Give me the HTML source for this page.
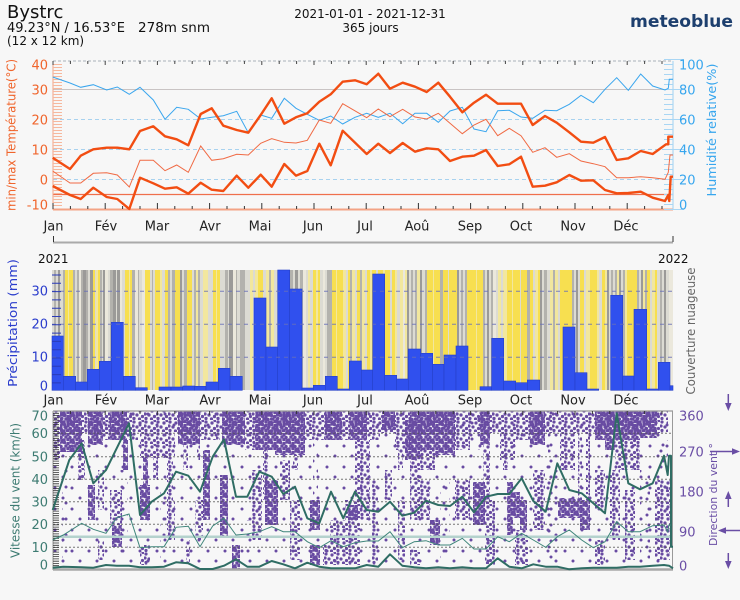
<!DOCTYPE html>
<html><head><meta charset="utf-8">
<style>
html,body{margin:0;padding:0;background:#f7f7f7;}
svg{display:block;font-family:"DejaVu Sans","Liberation Sans",sans-serif;}
.Y{fill:#f7df50}.y{fill:#f2e79e}.L{fill:#dcdbd3}.W{fill:#ebe8dc}.G{fill:#b3b2ad}.D{fill:#9b9a98}
</style></head><body>
<svg width="740" height="600" viewBox="0 0 740 600" xmlns="http://www.w3.org/2000/svg">
<defs>
<pattern id="pd" width="9" height="9" patternUnits="userSpaceOnUse"><g fill="#684ba2"><circle cx="1.5" cy="1.5" r="1.75"/><circle cx="5" cy="2.5" r="1.75"/><circle cx="8" cy="1" r="1.75"/><circle cx="3" cy="5" r="1.75"/><circle cx="7" cy="5.5" r="1.75"/><circle cx="1" cy="8" r="1.75"/><circle cx="5" cy="7.8" r="1.75"/><circle cx="8.5" cy="8.5" r="1.75"/></g></pattern>
<pattern id="pm" width="12" height="12" patternUnits="userSpaceOnUse"><g fill="#684ba2"><circle cx="2" cy="2" r="1.6"/><circle cx="8" cy="3" r="1.6"/><circle cx="5" cy="7" r="1.6"/><circle cx="10.5" cy="8.5" r="1.6"/><circle cx="2" cy="10.5" r="1.6"/><circle cx="7.5" cy="11" r="1.6"/><circle cx="11" cy="0.5" r="1.6"/><circle cx="1" cy="6" r="1.6"/></g></pattern>
<pattern id="ps" width="14" height="16" patternUnits="userSpaceOnUse"><g fill="#684ba2"><circle cx="3" cy="3" r="1.5"/><circle cx="10" cy="7" r="1.5"/><circle cx="5" cy="13" r="1.5"/></g></pattern>
<pattern id="pb" width="17" height="21" patternUnits="userSpaceOnUse"><g fill="#684ba2"><circle cx="4" cy="5" r="1.5"/><circle cx="12" cy="15" r="1.5"/></g></pattern>
</defs>
<rect width="740" height="600" fill="#f7f7f7"/>

<!-- HEADER -->
<text x="7" y="18" font-size="18" fill="#111">Bystrc</text>
<text x="7" y="32" font-size="13.5" fill="#111" textLength="118" lengthAdjust="spacingAndGlyphs">49.23°N / 16.53°E</text>
<text x="138" y="32" font-size="13.5" fill="#111" textLength="72" lengthAdjust="spacingAndGlyphs">278m snm</text>
<text x="7" y="45" font-size="12" fill="#111">(12 x 12 km)</text>
<text x="370" y="18" font-size="12" fill="#111" text-anchor="middle">2021-01-01 - 2021-12-31</text>
<text x="370.5" y="32" font-size="12" fill="#111" text-anchor="middle">365 jours</text>
<text x="630" y="27" font-size="17" font-weight="bold" fill="#1d3f6e" textLength="103" lengthAdjust="spacingAndGlyphs">meteoblue</text>

<!-- TOP PANEL -->
<g>
<line x1="53" y1="61" x2="673" y2="61" stroke="#a8b0b8" stroke-dasharray="3,2" stroke-width="1"/>
<line x1="53" y1="89.5" x2="673" y2="89.5" stroke="#c9c4c4" stroke-width="1"/>
<line x1="53" y1="119.5" x2="673" y2="119.5" stroke="#a8d2ef" stroke-dasharray="4,3" stroke-width="1"/>
<line x1="53" y1="149.5" x2="673" y2="149.5" stroke="#a8d2ef" stroke-dasharray="4,3" stroke-width="1"/>
<line x1="53" y1="179.5" x2="673" y2="179.5" stroke="#a8d2ef" stroke-dasharray="4,3" stroke-width="1"/>
<line x1="53" y1="194.5" x2="673" y2="194.5" stroke="#ef6f4c" stroke-width="1.3"/>
<line x1="53" y1="209.5" x2="673" y2="209.5" stroke="#f3a385" stroke-width="2"/>
<line x1="53" y1="61" x2="53" y2="210" stroke="#f3a385" stroke-width="1"/>
<line x1="673" y1="61" x2="673" y2="210" stroke="#9fd0f2" stroke-width="1"/>
<path stroke="#f6b89e" stroke-width="1" d="M53 64.5h9M53 67.5h9M53 70.5h9M53 73.5h9M53 76.5h9M53 79.5h9M53 82.5h9M53 85.5h9M53 88.5h9M53 91.5h9M53 94.5h9M53 97.5h9M53 100.5h9M53 103.5h9M53 106.5h9M53 109.5h9M53 112.5h9M53 115.5h9M53 118.5h9M53 121.5h9M53 124.5h9M53 127.5h9M53 130.5h9M53 133.5h9M53 136.5h9M53 139.5h9M53 142.5h9M53 145.5h9M53 148.5h9M53 151.5h9M53 154.5h9M53 157.5h9M53 160.5h9M53 163.5h9M53 166.5h9M53 169.5h9M53 172.5h9M53 175.5h9M53 178.5h9M53 181.5h9M53 184.5h9M53 187.5h9M53 190.5h9M53 193.5h9M53 196.5h9M53 199.5h9M53 202.5h9M53 205.5h9"/>
<path stroke="#a9d6f4" stroke-width="1" d="M664 64.5h9M664 69.5h9M664 74.5h9M664 79.5h9M664 84.5h9M664 94.5h9M664 99.5h9M664 104.5h9M664 109.5h9M664 114.5h9M664 124.5h9M664 129.5h9M664 134.5h9M664 139.5h9M664 144.5h9M664 154.5h9M664 159.5h9M664 164.5h9M664 169.5h9M664 174.5h9M664 184.5h9M664 189.5h9M664 194.5h9M664 199.5h9M664 204.5h9M664 59.5h20M664 89.5h20M664 119.5h20M664 149.5h20M664 179.5h20M664 209.5h20"/>
<path stroke="#444" stroke-width="1" d="M53 61v4M70.4 61v3M87.8 61v3M105.2 61v4M122.6 61v3M140 61v3M157.4 61v4M174.8 61v3M192.2 61v3M209.6 61v4M227 61v3M244.4 61v3M261.8 61v4M279.2 61v3M296.6 61v3M314 61v4M331.4 61v3M348.8 61v3M366.2 61v4M383.6 61v3M401 61v3M418.4 61v4M435.8 61v3M453.2 61v3M470.6 61v4M488 61v3M505.4 61v3M522.8 61v4M540.2 61v3M557.6 61v3M575 61v4M592.4 61v3M609.8 61v3M627.2 61v4M644.6 61v3M662 61v3"/>
<path stroke="#333" stroke-width="1" d="M53 209v-6M70.4 209v-3M87.8 209v-3M105.2 209v-6M122.6 209v-3M140 209v-3M157.4 209v-6M174.8 209v-3M192.2 209v-3M209.6 209v-6M227 209v-3M244.4 209v-3M261.8 209v-6M279.2 209v-3M296.6 209v-3M314 209v-6M331.4 209v-3M348.8 209v-3M366.2 209v-6M383.6 209v-3M401 209v-3M418.4 209v-6M435.8 209v-3M453.2 209v-3M470.6 209v-6M488 209v-3M505.4 209v-3M522.8 209v-6M540.2 209v-3M557.6 209v-3M575 209v-6M592.4 209v-3M609.8 209v-3M627.2 209v-6M644.6 209v-3M662 209v-3"/>
<polyline fill="none" stroke="#3aa6ee" stroke-width="1" points="52.7,77 70,83 80.7,87.3 93.3,84.7 106.7,90 117.3,87 129.3,94.3 140,87.3 153.3,100 165,119.3 176.7,107.3 188.3,109.3 200.7,119 211.7,117.3 223.3,115.7 236.7,111.3 248.3,132.7 260.7,115 271.7,118.3 284.3,98.3 296,108.3 307.3,114.3 319.3,120.3 330.7,116 342.7,124 355,117.3 366.7,113.3 378.3,117.3 390,113.3 402.7,123.7 415,113.3 426.7,113.3 438.3,122.3 450,111 462.3,107.3 474,129 486,131.7 497.7,110.7 509.3,110.3 521,117 532.7,118.3 545,110.3 556.7,110.7 569.3,104.3 581,95.3 593.3,102.7 605,89.3 616.7,77.7 628.3,90.3 640.7,74 652.7,86 665,90 668.3,88.3 669.3,79.3 673,79.3"/>
<polyline fill="none" stroke="#f06a44" stroke-width="1" points="52.7,171 70,183 80.7,183 93.3,173.3 106.7,172.7 117.3,175 129.3,187 140,160.3 153.3,160.3 165,170.7 176.7,165 188.3,172.3 200.7,146 211.7,160.3 223.3,158.7 236.7,154.3 248.3,155 260.7,143.3 271.7,138.7 284.3,142.3 296,143 307.3,140.3 319.3,120 330.7,123.3 342.7,103.7 366.7,117.7 378.3,109 390,116.7 402.7,109.3 415,117 426.7,119 438.3,113.3 450,123.3 462.3,133.7 474,125 486,119.3 497.7,135.7 509.3,128.3 521,135.7 532.7,152.3 545,147.7 556.7,157.3 569.3,153.7 581,161 593.3,163.7 605,166.7 616.7,177.7 628.3,177.7 640.7,176.7 652.7,177.7 665,179.3 668.3,172.3 670,155 673,155"/>
<polyline fill="none" stroke="#f24d12" stroke-width="2.4" stroke-linejoin="round" points="52.7,157.7 70,169 80.7,155.7 93.3,149.3 106.7,147.7 117.3,147.7 129.3,149.3 140,131 153.3,126.3 165,136.3 176.7,139.3 188.3,145.3 200.7,114 211.7,108.3 223.3,125.7 236.7,130 248.3,132.7 260.7,115 271.7,98.3 284.3,123.7 296,117.3 307.3,113.3 319.3,101.7 330.7,94.3 342.7,81.7 355,80.3 366.7,84.3 378.3,73.7 390,88.7 402.7,82.7 415,86.7 426.7,92 438.3,82.7 450,96.7 462.3,112.3 474,102.7 486,94.7 497.7,103.7 509.3,103.7 521,103.7 532.7,125 545,116 556.7,122.7 569.3,132.3 581,141.7 593.3,142.7 605,137 616.7,160 628.3,158.3 640.7,151 652.7,154 666,144.3 668.3,144.3 668.3,136.7 673,136.7"/>
<polyline fill="none" stroke="#f24d12" stroke-width="2.4" stroke-linejoin="round" points="52.7,186 70,195 80.7,199 93.3,187.7 106.7,197 117.3,199 129.3,209 140,177.7 153.3,183.3 165,188.7 176.7,187.3 188.3,193.7 200.7,182.7 211.7,189.7 223.3,191 236.7,175.7 248.3,187.7 260.7,174.7 271.7,186.7 284.3,164 296,175.7 307.3,171 319.3,143.7 330.7,165.3 342.7,130.7 366.7,154 378.3,143.7 390,153 402.7,143 415,151.7 426.7,148.3 438.3,149.3 450,161 462.3,156.7 474,155.7 486,150 497.7,166 509.3,164.3 521,156.7 532.7,186.7 545,185.7 556.7,182.3 569.3,175 581,180.7 593.3,180.3 605,190 616.7,193.3 628.3,193 640.7,191.7 652.7,197.7 665,201 668.3,195 669.3,201 670.7,176.7 673,176.7"/>
</g>
<g font-size="13" fill="#f0652c" text-anchor="end">
<text x="48" y="69.7">40</text><text x="48" y="94.7">30</text><text x="48" y="124.5">20</text><text x="48" y="154.5">10</text><text x="48" y="184.5">0</text><text x="48" y="209.7">-10</text>
</g>
<g font-size="13" fill="#37a6ee">
<text x="679" y="69.7">100</text><text x="679" y="94.7">80</text><text x="679" y="124.5">60</text><text x="679" y="154.5">40</text><text x="679" y="184.5">20</text><text x="679" y="209.7">0</text>
</g>
<text transform="translate(15.5,135) rotate(-90)" font-size="12" fill="#f0652c" text-anchor="middle" textLength="152" lengthAdjust="spacingAndGlyphs">min/max Température(°C)</text>
<text transform="translate(716,130) rotate(-90)" font-size="12" fill="#37a6ee" text-anchor="middle" textLength="133" lengthAdjust="spacingAndGlyphs">Humidité relative(%)</text>
<g font-size="13" fill="#222" text-anchor="middle">
<text x="53.5" y="230.5">Jan</text><text x="106" y="230.5">Fév</text><text x="157" y="230.5">Mar</text><text x="210" y="230.5">Avr</text><text x="260" y="230.5">Mai</text><text x="313" y="230.5">Jun</text><text x="365" y="230.5">Jul</text><text x="417" y="230.5">Aoû</text><text x="470" y="230.5">Sep</text><text x="521" y="230.5">Oct</text><text x="573" y="230.5">Nov</text><text x="626" y="230.5">Déc</text>
</g>
<!-- timeline -->
<line x1="53" y1="242.5" x2="673" y2="242.5" stroke="#aaa" stroke-width="2"/>
<path stroke="#333" stroke-width="1" d="M53.5 236v6M673 236v6"/>
<text x="38" y="263" font-size="12" fill="#111">2021</text>
<text x="658" y="263" font-size="12" fill="#111">2022</text>

<!-- MIDDLE PANEL background stripes -->
<g>
<rect x="52" y="270" width="2" height="120" class="L"/><rect x="54" y="270" width="2" height="120" class="G"/><rect x="56" y="270" width="2" height="120" class="L"/><rect x="58" y="270" width="2" height="120" class="D"/><rect x="60" y="270" width="3" height="120" class="L"/><rect x="63" y="270" width="2" height="120" class="G"/><rect x="65" y="270" width="3" height="120" class="Y"/><rect x="68" y="270" width="1" height="120" class="y"/><rect x="69" y="270" width="4" height="120" class="Y"/><rect x="73" y="270" width="2" height="120" class="G"/><rect x="75" y="270" width="2" height="120" class="L"/><rect x="77" y="270" width="2" height="120" class="G"/><rect x="79" y="270" width="2" height="120" class="W"/><rect x="81" y="270" width="2" height="120" class="G"/><rect x="83" y="270" width="3" height="120" class="D"/><rect x="86" y="270" width="2" height="120" class="G"/><rect x="88" y="270" width="2" height="120" class="L"/><rect x="90" y="270" width="3" height="120" class="D"/><rect x="93" y="270" width="2" height="120" class="Y"/><rect x="95" y="270" width="1" height="120" class="L"/><rect x="96" y="270" width="2" height="120" class="y"/><rect x="98" y="270" width="2" height="120" class="Y"/><rect x="100" y="270" width="2" height="120" class="G"/><rect x="102" y="270" width="1" height="120" class="L"/><rect x="103" y="270" width="2" height="120" class="D"/><rect x="105" y="270" width="3" height="120" class="W"/><rect x="108" y="270" width="2" height="120" class="L"/><rect x="110" y="270" width="3" height="120" class="G"/><rect x="113" y="270" width="3" height="120" class="D"/><rect x="116" y="270" width="1" height="120" class="L"/><rect x="117" y="270" width="3" height="120" class="D"/><rect x="120" y="270" width="2" height="120" class="W"/><rect x="122" y="270" width="3" height="120" class="L"/><rect x="125" y="270" width="4" height="120" class="Y"/><rect x="129" y="270" width="1" height="120" class="y"/><rect x="130" y="270" width="2" height="120" class="Y"/><rect x="132" y="270" width="3" height="120" class="G"/><rect x="135" y="270" width="3" height="120" class="W"/><rect x="138" y="270" width="1" height="120" class="G"/><rect x="139" y="270" width="3" height="120" class="L"/><rect x="142" y="270" width="3" height="120" class="W"/><rect x="145" y="270" width="5" height="120" class="Y"/><rect x="150" y="270" width="2" height="120" class="L"/><rect x="152" y="270" width="1" height="120" class="G"/><rect x="153" y="270" width="2" height="120" class="L"/><rect x="155" y="270" width="5" height="120" class="Y"/><rect x="160" y="270" width="2" height="120" class="y"/><rect x="162" y="270" width="3" height="120" class="L"/><rect x="165" y="270" width="3" height="120" class="Y"/><rect x="168" y="270" width="2" height="120" class="G"/><rect x="170" y="270" width="2" height="120" class="L"/><rect x="172" y="270" width="3" height="120" class="G"/><rect x="175" y="270" width="5" height="120" class="Y"/><rect x="180" y="270" width="2" height="120" class="D"/><rect x="182" y="270" width="2" height="120" class="L"/><rect x="184" y="270" width="3" height="120" class="G"/><rect x="187" y="270" width="5" height="120" class="Y"/><rect x="192" y="270" width="2" height="120" class="L"/><rect x="194" y="270" width="2" height="120" class="G"/><rect x="196" y="270" width="2" height="120" class="y"/><rect x="198" y="270" width="2" height="120" class="G"/><rect x="200" y="270" width="3" height="120" class="L"/><rect x="203" y="270" width="5" height="120" class="y"/><rect x="208" y="270" width="5" height="120" class="L"/><rect x="213" y="270" width="3" height="120" class="Y"/><rect x="216" y="270" width="1" height="120" class="y"/><rect x="217" y="270" width="3" height="120" class="Y"/><rect x="220" y="270" width="5" height="120" class="L"/><rect x="225" y="270" width="3" height="120" class="G"/><rect x="228" y="270" width="1" height="120" class="L"/><rect x="229" y="270" width="4" height="120" class="D"/><rect x="233" y="270" width="3" height="120" class="W"/><rect x="236" y="270" width="1" height="120" class="G"/><rect x="237" y="270" width="3" height="120" class="L"/><rect x="240" y="270" width="5" height="120" class="G"/><rect x="245" y="270" width="5" height="120" class="L"/><rect x="250" y="270" width="3" height="120" class="y"/><rect x="253" y="270" width="2" height="120" class="L"/><rect x="255" y="270" width="3" height="120" class="y"/><rect x="258" y="270" width="5" height="120" class="Y"/><rect x="263" y="270" width="3" height="120" class="L"/><rect x="266" y="270" width="3" height="120" class="y"/><rect x="269" y="270" width="2" height="120" class="G"/><rect x="271" y="270" width="3" height="120" class="y"/><rect x="274" y="270" width="16" height="120" class="L"/><rect x="290" y="270" width="3" height="120" class="G"/><rect x="293" y="270" width="2" height="120" class="L"/><rect x="295" y="270" width="3" height="120" class="D"/><rect x="298" y="270" width="2" height="120" class="L"/><rect x="300" y="270" width="3" height="120" class="G"/><rect x="303" y="270" width="3" height="120" class="W"/><rect x="306" y="270" width="2" height="120" class="L"/><rect x="308" y="270" width="2" height="120" class="y"/><rect x="310" y="270" width="3" height="120" class="L"/><rect x="313" y="270" width="3" height="120" class="Y"/><rect x="316" y="270" width="2" height="120" class="y"/><rect x="318" y="270" width="2" height="120" class="Y"/><rect x="320" y="270" width="3" height="120" class="L"/><rect x="323" y="270" width="2" height="120" class="W"/><rect x="325" y="270" width="2" height="120" class="L"/><rect x="327" y="270" width="5" height="120" class="G"/><rect x="332" y="270" width="4" height="120" class="Y"/><rect x="336" y="270" width="1" height="120" class="y"/><rect x="337" y="270" width="6" height="120" class="Y"/><rect x="343" y="270" width="3" height="120" class="y"/><rect x="346" y="270" width="2" height="120" class="L"/><rect x="348" y="270" width="2" height="120" class="Y"/><rect x="350" y="270" width="2" height="120" class="G"/><rect x="352" y="270" width="3" height="120" class="y"/><rect x="355" y="270" width="2" height="120" class="L"/><rect x="357" y="270" width="3" height="120" class="Y"/><rect x="360" y="270" width="2" height="120" class="G"/><rect x="362" y="270" width="3" height="120" class="y"/><rect x="365" y="270" width="2" height="120" class="L"/><rect x="367" y="270" width="3" height="120" class="Y"/><rect x="370" y="270" width="2" height="120" class="y"/><rect x="372" y="270" width="4" height="120" class="Y"/><rect x="376" y="270" width="2" height="120" class="L"/><rect x="378" y="270" width="5" height="120" class="Y"/><rect x="383" y="270" width="2" height="120" class="y"/><rect x="385" y="270" width="5" height="120" class="Y"/><rect x="390" y="270" width="2" height="120" class="L"/><rect x="392" y="270" width="3" height="120" class="Y"/><rect x="395" y="270" width="2" height="120" class="y"/><rect x="397" y="270" width="3" height="120" class="L"/><rect x="400" y="270" width="3" height="120" class="y"/><rect x="403" y="270" width="2" height="120" class="W"/><rect x="405" y="270" width="2" height="120" class="y"/><rect x="407" y="270" width="2" height="120" class="D"/><rect x="409" y="270" width="2" height="120" class="L"/><rect x="411" y="270" width="2" height="120" class="G"/><rect x="413" y="270" width="2" height="120" class="L"/><rect x="415" y="270" width="2" height="120" class="G"/><rect x="417" y="270" width="3" height="120" class="y"/><rect x="420" y="270" width="2" height="120" class="D"/><rect x="422" y="270" width="3" height="120" class="L"/><rect x="425" y="270" width="2" height="120" class="G"/><rect x="427" y="270" width="6" height="120" class="Y"/><rect x="433" y="270" width="1" height="120" class="y"/><rect x="434" y="270" width="6" height="120" class="Y"/><rect x="440" y="270" width="3" height="120" class="G"/><rect x="443" y="270" width="5" height="120" class="Y"/><rect x="448" y="270" width="1" height="120" class="L"/><rect x="449" y="270" width="8" height="120" class="Y"/><rect x="457" y="270" width="2" height="120" class="D"/><rect x="459" y="270" width="2" height="120" class="L"/><rect x="461" y="270" width="2" height="120" class="G"/><rect x="463" y="270" width="2" height="120" class="L"/><rect x="465" y="270" width="2" height="120" class="G"/><rect x="467" y="270" width="9" height="120" class="Y"/><rect x="476" y="270" width="1" height="120" class="y"/><rect x="477" y="270" width="6" height="120" class="Y"/><rect x="483" y="270" width="2" height="120" class="G"/><rect x="485" y="270" width="2" height="120" class="L"/><rect x="487" y="270" width="2" height="120" class="D"/><rect x="489" y="270" width="2" height="120" class="L"/><rect x="491" y="270" width="2" height="120" class="G"/><rect x="493" y="270" width="3" height="120" class="W"/><rect x="496" y="270" width="2" height="120" class="L"/><rect x="498" y="270" width="3" height="120" class="y"/><rect x="501" y="270" width="2" height="120" class="L"/><rect x="503" y="270" width="4" height="120" class="y"/><rect x="507" y="270" width="5" height="120" class="Y"/><rect x="512" y="270" width="1" height="120" class="y"/><rect x="513" y="270" width="7" height="120" class="Y"/><rect x="520" y="270" width="1" height="120" class="L"/><rect x="521" y="270" width="6" height="120" class="Y"/><rect x="527" y="270" width="3" height="120" class="G"/><rect x="530" y="270" width="3" height="120" class="Y"/><rect x="533" y="270" width="2" height="120" class="L"/><rect x="535" y="270" width="3" height="120" class="y"/><rect x="538" y="270" width="2" height="120" class="Y"/><rect x="540" y="270" width="2" height="120" class="D"/><rect x="542" y="270" width="2" height="120" class="L"/><rect x="544" y="270" width="3" height="120" class="G"/><rect x="547" y="270" width="3" height="120" class="L"/><rect x="550" y="270" width="3" height="120" class="y"/><rect x="553" y="270" width="2" height="120" class="G"/><rect x="555" y="270" width="3" height="120" class="y"/><rect x="558" y="270" width="2" height="120" class="L"/><rect x="560" y="270" width="12" height="120" class="Y"/><rect x="572" y="270" width="2" height="120" class="G"/><rect x="574" y="270" width="2" height="120" class="L"/><rect x="576" y="270" width="2" height="120" class="D"/><rect x="578" y="270" width="2" height="120" class="L"/><rect x="580" y="270" width="4" height="120" class="Y"/><rect x="584" y="270" width="2" height="120" class="L"/><rect x="586" y="270" width="4" height="120" class="y"/><rect x="590" y="270" width="7" height="120" class="Y"/><rect x="597" y="270" width="2" height="120" class="y"/><rect x="599" y="270" width="3" height="120" class="L"/><rect x="602" y="270" width="3" height="120" class="Y"/><rect x="605" y="270" width="2" height="120" class="y"/><rect x="607" y="270" width="2" height="120" class="D"/><rect x="609" y="270" width="2" height="120" class="L"/><rect x="611" y="270" width="2" height="120" class="G"/><rect x="613" y="270" width="2" height="120" class="L"/><rect x="615" y="270" width="2" height="120" class="G"/><rect x="617" y="270" width="2" height="120" class="y"/><rect x="619" y="270" width="2" height="120" class="D"/><rect x="621" y="270" width="2" height="120" class="L"/><rect x="623" y="270" width="2" height="120" class="G"/><rect x="625" y="270" width="2" height="120" class="y"/><rect x="627" y="270" width="10" height="120" class="Y"/><rect x="637" y="270" width="2" height="120" class="G"/><rect x="639" y="270" width="2" height="120" class="L"/><rect x="641" y="270" width="2" height="120" class="D"/><rect x="643" y="270" width="2" height="120" class="y"/><rect x="645" y="270" width="2" height="120" class="G"/><rect x="647" y="270" width="3" height="120" class="Y"/><rect x="650" y="270" width="2" height="120" class="L"/><rect x="652" y="270" width="3" height="120" class="y"/><rect x="655" y="270" width="2" height="120" class="Y"/><rect x="657" y="270" width="3" height="120" class="L"/><rect x="660" y="270" width="2" height="120" class="G"/><rect x="662" y="270" width="2" height="120" class="L"/><rect x="664" y="270" width="2" height="120" class="D"/><rect x="666" y="270" width="3" height="120" class="L"/><rect x="669" y="270" width="4" height="120" class="W"/>
</g>
<!-- precipitation bars -->
<g fill="#3050ee" stroke="#2640c8" stroke-width="0.6">
<rect x="52" y="336" width="11.3" height="54.3"/><rect x="63.3" y="376.3" width="12.4" height="14"/><rect x="75.7" y="382" width="11.6" height="8.3"/><rect x="87.3" y="369.3" width="12" height="21"/><rect x="99.3" y="361.3" width="12" height="29"/><rect x="111.3" y="322.3" width="12" height="68"/><rect x="123.3" y="376.3" width="12" height="14"/><rect x="135.3" y="387.7" width="12" height="2.6"/><rect x="159" y="387" width="12" height="3.3"/><rect x="171" y="387" width="11.7" height="3.3"/><rect x="182.7" y="386" width="12" height="4.3"/><rect x="194.7" y="386.3" width="11.3" height="4"/><rect x="206" y="382" width="12.3" height="8.3"/><rect x="218.3" y="368.3" width="11.7" height="22"/><rect x="230" y="376.3" width="12.3" height="14"/><rect x="254" y="298" width="12" height="92.3"/><rect x="266" y="347" width="11.7" height="43.3"/><rect x="277.7" y="270" width="12" height="120.3"/><rect x="289.7" y="289" width="12.3" height="101.3"/><rect x="302" y="388" width="11.3" height="2.3"/><rect x="313.3" y="385.3" width="12" height="5"/><rect x="325.3" y="376.3" width="12" height="14"/><rect x="337.3" y="389" width="12" height="1.3"/><rect x="349.3" y="361" width="12" height="29.3"/><rect x="361.3" y="370" width="11.4" height="20.3"/><rect x="372.7" y="274" width="12" height="116.3"/><rect x="384.7" y="375.3" width="12" height="15"/><rect x="396.7" y="379" width="11.6" height="11.3"/><rect x="408.3" y="349" width="12.4" height="41.3"/><rect x="420.7" y="353.3" width="12" height="37"/><rect x="432.7" y="364.3" width="11.3" height="26"/><rect x="444" y="355" width="12" height="35.3"/><rect x="456" y="346" width="12" height="44.3"/><rect x="480" y="386.7" width="11.7" height="3.6"/><rect x="491.7" y="338.3" width="12" height="52"/><rect x="503.7" y="381" width="12" height="9.3"/><rect x="515.7" y="382.7" width="11.6" height="7.6"/><rect x="527.3" y="380" width="12.4" height="10.3"/><rect x="563" y="327" width="12" height="63.3"/><rect x="575" y="372.7" width="12" height="17.6"/><rect x="587" y="389" width="11.7" height="1.3"/><rect x="610.7" y="295.3" width="12" height="95"/><rect x="622.7" y="376" width="11.3" height="14.3"/><rect x="634" y="309.3" width="12.7" height="81"/><rect x="646.7" y="389" width="11.6" height="1.3"/><rect x="658.3" y="362.3" width="11.7" height="28"/><rect x="670" y="385.7" width="3" height="4.6"/>
</g>
<g stroke="#6870b8" stroke-width="1" stroke-dasharray="4,4" opacity="0.85">
<line x1="52" y1="291.3" x2="673" y2="291.3"/><line x1="52" y1="324.3" x2="673" y2="324.3"/><line x1="52" y1="357.3" x2="673" y2="357.3"/>
</g>
<path stroke="#2a3bb8" stroke-width="1" d="M52 275h9M52 283.3h9M52 291.6h9M52 299.9h9M52 308.2h9M52 316.5h9M52 324.8h9M52 333.1h9M52 341.4h9M52 349.7h9M52 358h9M52 366.3h9M52 374.6h9M52 382.9h9"/>
<g font-size="13" fill="#2a3ccc" text-anchor="end">
<text x="48" y="295.7">30</text><text x="48" y="328.7">20</text><text x="48" y="361.7">10</text><text x="48" y="390.5">0</text>
</g>
<text transform="translate(17,323) rotate(-90)" font-size="12" fill="#2a3ccc" text-anchor="middle" textLength="128" lengthAdjust="spacingAndGlyphs">Précipitation (mm)</text>
<text transform="translate(695,331) rotate(-90)" font-size="12" fill="#666" text-anchor="middle" textLength="127" lengthAdjust="spacingAndGlyphs">Couverture nuageuse</text>
<g font-size="13" fill="#222" text-anchor="middle">
<text x="53.5" y="404.5">Jan</text><text x="106" y="404.5">Fév</text><text x="157" y="404.5">Mar</text><text x="210" y="404.5">Avr</text><text x="260" y="404.5">Mai</text><text x="313" y="404.5">Jun</text><text x="365" y="404.5">Jul</text><text x="417" y="404.5">Aoû</text><text x="470" y="404.5">Sep</text><text x="521" y="404.5">Oct</text><text x="573" y="404.5">Nov</text><text x="626" y="404.5">Déc</text>
</g>

<!-- BOTTOM PANEL -->
<g>
<rect x="53" y="411" width="620" height="158" fill="url(#pb)"/>
<rect x="53" y="411" width="615" height="22" fill="url(#pm)"/>
<!-- dot streaks -->
<rect x="60" y="411" width="22" height="41" fill="url(#pd)"/><rect x="53" y="411" width="7" height="49" fill="url(#pm)"/><rect x="88" y="411" width="15" height="34" fill="url(#pd)"/><rect x="103" y="411" width="7" height="29" fill="url(#pm)"/><rect x="110" y="411" width="17" height="29" fill="url(#pd)"/><rect x="123" y="440" width="5" height="30" fill="url(#pd)"/><rect x="127" y="411" width="11" height="29" fill="url(#pm)"/><rect x="140" y="411" width="35" height="47" fill="url(#pm)"/><rect x="143" y="458" width="5" height="62" fill="url(#pd)"/><rect x="153" y="458" width="5" height="22" fill="url(#pm)"/><rect x="167" y="458" width="6" height="82" fill="url(#pm)"/><rect x="178" y="411" width="22" height="34" fill="url(#pd)"/><rect x="183" y="445" width="5" height="25" fill="url(#pm)"/><rect x="197" y="445" width="3" height="15" fill="url(#pm)"/><rect x="200" y="411" width="20" height="29" fill="url(#pm)"/><rect x="203" y="450" width="7" height="70" fill="url(#pd)"/><rect x="222" y="411" width="23" height="34" fill="url(#pd)"/><rect x="245" y="418" width="10" height="32" fill="url(#pm)"/><rect x="255" y="411" width="20" height="39" fill="url(#pd)"/><rect x="263" y="450" width="5" height="50" fill="url(#pm)"/><rect x="275" y="411" width="30" height="44" fill="url(#pd)"/><rect x="293" y="455" width="5" height="15" fill="url(#pm)"/><rect x="305" y="411" width="20" height="29" fill="url(#pm)"/><rect x="325" y="411" width="7" height="29" fill="url(#pd)"/><rect x="313" y="440" width="5" height="90" fill="url(#ps)"/><rect x="332" y="411" width="10" height="29" fill="url(#pd)"/><rect x="342" y="411" width="8" height="29" fill="url(#pm)"/><rect x="350" y="411" width="17" height="29" fill="url(#pd)"/>
<rect x="62" y="470" width="8" height="90" fill="url(#ps)"/><rect x="78" y="440" width="7" height="40" fill="url(#pm)"/><rect x="88" y="485" width="7" height="35" fill="url(#pd)"/><rect x="98" y="470" width="6" height="40" fill="url(#pm)"/><rect x="98" y="540" width="6" height="20" fill="url(#pm)"/><rect x="110" y="490" width="12" height="35" fill="url(#pm)"/><rect x="112" y="525" width="10" height="22" fill="url(#pd)"/><rect x="120" y="470" width="8" height="90" fill="url(#ps)"/><rect x="140" y="485" width="10" height="35" fill="url(#pd)"/><rect x="140" y="545" width="10" height="20" fill="url(#pm)"/><rect x="160" y="490" width="8" height="70" fill="url(#ps)"/><rect x="168" y="500" width="7" height="40" fill="url(#pm)"/><rect x="186" y="540" width="4" height="25" fill="url(#pm)"/><rect x="195" y="500" width="8" height="40" fill="url(#pm)"/><rect x="220" y="475" width="8" height="63" fill="url(#pd)"/><rect x="232" y="545" width="8" height="24" fill="url(#pd)"/><rect x="245" y="520" width="7" height="40" fill="url(#ps)"/><rect x="252" y="470" width="10" height="70" fill="url(#pm)"/><rect x="265" y="480" width="13" height="45" fill="url(#pd)"/><rect x="280" y="460" width="10" height="40" fill="url(#pm)"/><rect x="290" y="500" width="10" height="60" fill="url(#pm)"/><rect x="310" y="500" width="10" height="30" fill="url(#pd)"/><rect x="310" y="545" width="10" height="20" fill="url(#pd)"/><rect x="323" y="545" width="7" height="20" fill="url(#pm)"/><rect x="330" y="520" width="15" height="45" fill="url(#pm)"/><rect x="345" y="500" width="15" height="65" fill="url(#pm)"/><rect x="348" y="505" width="10" height="15" fill="url(#pd)"/><rect x="355" y="440" width="15" height="80" fill="url(#pm)"/>
<rect x="370" y="411" width="10" height="29" fill="url(#pm)"/><rect x="382" y="411" width="13" height="19" fill="url(#pd)"/><rect x="395" y="411" width="15" height="39" fill="url(#pm)"/><rect x="398" y="450" width="5" height="20" fill="url(#pm)"/><rect x="410" y="411" width="25" height="39" fill="url(#pd)"/><rect x="405" y="420" width="15" height="40" fill="url(#pd)"/><rect x="420" y="450" width="15" height="20" fill="url(#pm)"/><rect x="435" y="411" width="20" height="44" fill="url(#pd)"/><rect x="455" y="411" width="15" height="39" fill="url(#pm)"/><rect x="470" y="411" width="10" height="39" fill="url(#ps)"/><rect x="480" y="411" width="10" height="34" fill="url(#pd)"/><rect x="483" y="445" width="7" height="75" fill="url(#pm)"/><rect x="490" y="411" width="10" height="19" fill="url(#pm)"/><rect x="500" y="411" width="15" height="49" fill="url(#pm)"/><rect x="503" y="460" width="5" height="10" fill="url(#pm)"/><rect x="515" y="411" width="15" height="29" fill="url(#pm)"/><rect x="530" y="411" width="15" height="34" fill="url(#pd)"/><rect x="548" y="411" width="5" height="109" fill="url(#ps)"/><rect x="560" y="411" width="15" height="59" fill="url(#pm)"/><rect x="578" y="411" width="4" height="89" fill="url(#pm)"/><rect x="586" y="411" width="4" height="89" fill="url(#pm)"/><rect x="595" y="411" width="10" height="29" fill="url(#pd)"/><rect x="605" y="411" width="10" height="39" fill="url(#pd)"/><rect x="615" y="411" width="25" height="29" fill="url(#pd)"/><rect x="615" y="440" width="25" height="30" fill="url(#pm)"/><rect x="640" y="411" width="17" height="27" fill="url(#pd)"/><rect x="657" y="440" width="11" height="30" fill="url(#ps)"/>
<rect x="372" y="480" width="6" height="85" fill="url(#pm)"/><rect x="385" y="470" width="7" height="30" fill="url(#pm)"/><rect x="398" y="500" width="7" height="60" fill="url(#pm)"/><rect x="410" y="460" width="10" height="60" fill="url(#pm)"/><rect x="410" y="550" width="10" height="15" fill="url(#pm)"/><rect x="420" y="480" width="10" height="40" fill="url(#pm)"/><rect x="430" y="520" width="10" height="25" fill="url(#pd)"/><rect x="440" y="480" width="10" height="80" fill="url(#ps)"/><rect x="455" y="480" width="15" height="40" fill="url(#pm)"/><rect x="473" y="482" width="12" height="43" fill="url(#pd)"/><rect x="485" y="500" width="10" height="65" fill="url(#pm)"/><rect x="507" y="482" width="6" height="53" fill="url(#pd)"/><rect x="512" y="492" width="8" height="26" fill="url(#pd)"/><rect x="520" y="500" width="7" height="30" fill="url(#pd)"/><rect x="515" y="530" width="13" height="35" fill="url(#pm)"/><rect x="533" y="470" width="12" height="60" fill="url(#pm)"/><rect x="545" y="470" width="15" height="90" fill="url(#ps)"/><rect x="558" y="498" width="22" height="20" fill="url(#pd)"/><rect x="580" y="500" width="10" height="30" fill="url(#pd)"/><rect x="595" y="470" width="10" height="40" fill="url(#pm)"/><rect x="595" y="540" width="10" height="25" fill="url(#pm)"/><rect x="610" y="470" width="10" height="70" fill="url(#pm)"/><rect x="625" y="490" width="10" height="70" fill="url(#pm)"/><rect x="640" y="470" width="10" height="90" fill="url(#ps)"/><rect x="655" y="480" width="15" height="80" fill="url(#pm)"/>
</g>
<line x1="53" y1="536.7" x2="673" y2="536.7" stroke="#b4d2cd" stroke-width="2.5"/>
<g stroke="#555" stroke-width="1" stroke-dasharray="2,2" opacity="0.8">
<line x1="53" y1="433.3" x2="673" y2="433.3"/><line x1="53" y1="456.7" x2="673" y2="456.7"/><line x1="53" y1="479.3" x2="673" y2="479.3"/><line x1="53" y1="501.7" x2="673" y2="501.7"/><line x1="53" y1="524.3" x2="673" y2="524.3"/><line x1="53" y1="547.3" x2="673" y2="547.3"/>
</g>
<line x1="53" y1="411" x2="673" y2="411" stroke="#999" stroke-width="1.2"/>
<line x1="53" y1="569.5" x2="673" y2="569.5" stroke="#a8a8a8" stroke-width="2.5"/>
<line x1="53" y1="411" x2="53" y2="570" stroke="#999" stroke-width="1"/>
<line x1="672.5" y1="411" x2="672.5" y2="570" stroke="#999" stroke-width="1"/>
<path stroke="#333" stroke-width="0.8" d="M53 413.3h6M53 415.6h6M53 417.9h6M53 420.1h6M53 422.4h6M53 424.7h6M53 427h6M53 429.2h6M53 431.5h6M53 433.8h6M53 436.1h6M53 438.3h6M53 440.6h6M53 442.9h6M53 445.2h6M53 447.4h6M53 449.7h6M53 452h6M53 454.3h6M53 456.5h6M53 458.8h6M53 461.1h6M53 463.4h6M53 465.6h6M53 467.9h6M53 470.2h6M53 472.5h6M53 474.7h6M53 477h6M53 479.3h6M53 481.6h6M53 483.8h6M53 486.1h6M53 488.4h6M53 490.7h6M53 492.9h6M53 495.2h6M53 497.5h6M53 499.8h6M53 502h6M53 504.3h6M53 506.6h6M53 508.9h6M53 511.1h6M53 513.4h6M53 515.7h6M53 518h6M53 520.2h6M53 522.5h6M53 524.8h6M53 527.1h6M53 529.3h6M53 531.6h6M53 533.9h6M53 536.2h6M53 538.4h6M53 540.7h6M53 543h6M53 545.3h6M53 547.5h6M53 549.8h6M53 552.1h6M53 554.4h6M53 556.6h6M53 558.9h6M53 561.2h6M53 563.5h6M53 565.7h6"/>
<path stroke="#333" stroke-width="1" d="M70.4 411v3M87.8 411v3M105.2 411v4M122.6 411v3M140 411v3M157.4 411v4M174.8 411v3M192.2 411v3M209.6 411v4M227 411v3M244.4 411v3M261.8 411v4M279.2 411v3M296.6 411v3M314 411v4M331.4 411v3M348.8 411v3M366.2 411v4M383.6 411v3M401 411v3M418.4 411v4M435.8 411v3M453.2 411v3M470.6 411v4M488 411v3M505.4 411v3M522.8 411v4M540.2 411v3M557.6 411v3M575 411v4M592.4 411v3M609.8 411v3M627.2 411v4M644.6 411v3M662 411v3"/>
<polyline fill="none" stroke="#2f6d64" stroke-width="2" stroke-linejoin="round" points="52.7,510 69.3,460 81.7,443.3 93.3,483.3 106,470 116.7,448.3 129,423.3 140,515 151.7,501.7 164,493.3 176,471.7 188.3,475.7 200,491.7 212.7,456.7 224,439.3 236,496.7 247.3,496.7 259.3,471.7 271.7,476.7 283.3,494 295,486.7 307.3,518.3 319.3,523.3 331,491.7 343.3,518.3 355,491.7 366.7,510 378.3,511.7 390,501.7 402.3,515.7 414.3,512.7 426,500.7 438.3,505 450,506 462.3,496.7 474,512.3 486,496.7 497.7,494 509.3,494 521.7,478.3 533.3,501 545.7,511.7 557.3,463.3 569.3,490 581.7,493.3 593.3,503.3 605,513.3 616.7,413.3 628.3,483.3 640,489.3 652.7,483.3 664,455.7 667.7,475 669,455.7 671,455.7 671,546.7 673,546.7"/>
<polyline fill="none" stroke="#3f857a" stroke-width="1" points="52.7,540 63.3,535 81.7,523.3 93.3,529.3 106,533.3 116.7,517.7 129,514 140,547.7 151.7,546.7 164,546.7 176,527.3 188.3,526.3 200,546.7 212.7,526 224,518.3 236,535 247.3,534 259.3,531.7 271.7,526.7 283.3,531.7 295,531.7 307.3,541.7 319.3,547.7 331,540.7 343.3,546.7 355,542.7 366.7,541 378.3,541 390,531.7 402.3,547.7 414.3,541.7 426,540.7 438.3,545 450,545 462.3,538.3 474,549 486,549 497.7,536.7 509.3,541.7 521.7,533.3 533.3,540 545.7,547.3 557.3,536.7 569.3,530 581.7,540 593.3,547.7 605,541.7 616.7,521.7 628.3,531.7 640,531.7 652.7,525.7 664,525 667.7,531.7 669,525 671,525"/>
<polyline fill="none" stroke="#2f6d64" stroke-width="2" stroke-linejoin="round" points="52.7,567.7 63.3,566.7 81.7,567.3 93.3,567.7 106,565 116.7,565.7 129,565.7 140,567.3 151.7,567.3 164,566.7 176,562.3 188.3,563.3 200,569 212.7,569 224,565.7 236,559.3 247.3,566.7 259.3,566.7 271.7,561 283.3,564.3 295,568.3 307.3,562.7 319.3,566.7 331,568.3 343.3,568.3 355,568.3 366.7,565 378.3,566.7 390,554.3 402.3,565.7 414.3,567.3 426,568.3 438.3,567.3 450,568.3 462.3,567.3 474,568.3 486,568.3 497.7,558.3 509.3,566.7 521.7,568.3 533.3,564.3 545.7,566.7 557.3,566.7 569.3,569.3 581.7,568.3 593.3,567.7 605,567.7 616.7,567.7 628.3,566.7 640,566.7 652.7,565.7 664,565 669,565.7 673,568.3"/>
<g font-size="13" fill="#3d7b72" text-anchor="end">
<text x="48" y="420.7">70</text><text x="48" y="438">60</text><text x="48" y="461.4">50</text><text x="48" y="484">40</text><text x="48" y="506.4">30</text><text x="48" y="529">20</text><text x="48" y="552">10</text><text x="48" y="569.7">0</text>
</g>
<g font-size="13" fill="#6a4ea5">
<text x="679" y="420.7">360</text><text x="679" y="456.4">270</text><text x="679" y="496.4">180</text><text x="679" y="536.4">90</text><text x="679" y="570.4">0</text>
</g>
<text transform="translate(19.5,490.5) rotate(-90)" font-size="12" fill="#3d7b72" text-anchor="middle" textLength="135" lengthAdjust="spacingAndGlyphs">Vitesse du vent (km/h)</text>
<text transform="translate(717,494.5) rotate(-90)" font-size="11" fill="#6a4ea5" text-anchor="middle" textLength="103" lengthAdjust="spacingAndGlyphs">Direction du vent °</text>
<!-- direction arrows -->
<g stroke="#6a4ea5" stroke-width="1.5" fill="#6a4ea5">
<line x1="728.3" y1="394" x2="728.3" y2="405"/><polygon stroke="none" points="725,403 731.6,403 728.3,411"/>
<line x1="710" y1="451.5" x2="733" y2="451.5"/><polygon stroke="none" points="732,448.2 732,454.8 740,451.5"/>
<line x1="728.3" y1="507" x2="728.3" y2="497"/><polygon stroke="none" points="725,499 731.6,499 728.3,491"/>
<line x1="740" y1="530.5" x2="725" y2="530.5"/><polygon stroke="none" points="726,527.2 726,533.8 718,530.5"/>
<line x1="728.3" y1="553" x2="728.3" y2="563"/><polygon stroke="none" points="725,561 731.6,561 728.3,569"/>
</g>
</svg>
</body></html>
